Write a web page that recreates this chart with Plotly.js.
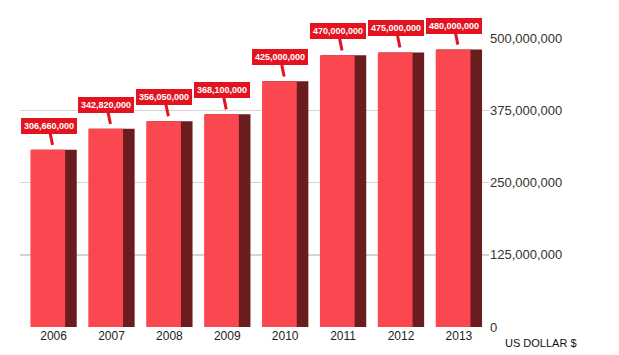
<!DOCTYPE html>
<html>
<head>
<meta charset="utf-8">
<script src="https://cdn.plot.ly/plotly-3.0.1.min.js"></script>
<style>html,body{margin:0;padding:0;background:#fff;}#chart{width:619px;height:355px;}</style>
</head>
<body>
<div id="chart"></div>
<script>
const years = ['2006','2007','2008','2009','2010','2011','2012','2013'];
const values = [306660000, 342820000, 356050000, 368100000, 425000000, 470000000, 475000000, 480000000];
const valueLabels = ['306,660,000','342,820,000','356,050,000','368,100,000','425,000,000','470,000,000','475,000,000','480,000,000'];
const tickValues = [0, 125000000, 250000000, 375000000, 500000000];
const tickLabels = ['0','125,000,000','250,000,000','375,000,000','500,000,000'];

const sideTrace = {
  type: 'bar', x: years, y: values,
  width: 0.78, offset: -0.38,
  marker: {color: '#6a1c1f'},
  hoverinfo: 'skip', cliponaxis: false
};
const frontTrace = {
  type: 'bar', x: years, y: values,
  width: 0.6, offset: -0.4,
  marker: {color: '#fb4850'},
  cliponaxis: false
};

const annotations = years.map((yr, i) => ({
  x: i, y: values[i], xref: 'x', yref: 'y',
  text: valueLabels[i],
  showarrow: true, arrowhead: 0, arrowwidth: 3, arrowcolor: '#e3131f',
  ax: -5, ay: -24, standoff: 5,
  bgcolor: '#e3131f', bordercolor: '#e3131f', borderpad: 2,
  font: {family: 'Arial, Liberation Sans, sans-serif', size: 9, color: '#ffffff', weight: 'bold'}
}));
annotations.push({
  xref: 'paper', yref: 'paper', x: 1.03, y: -0.055, xanchor: 'left', yanchor: 'middle',
  text: 'US DOLLAR $', showarrow: false,
  font: {family: 'Arial, Liberation Sans, sans-serif', size: 11, color: '#111'}
});

const layout = {
  width: 619, height: 355,
  margin: {l: 20, r: 130, t: 38, b: 28},
  paper_bgcolor: '#ffffff', plot_bgcolor: '#ffffff',
  showlegend: false,
  barmode: 'overlay',
  xaxis: {
    type: 'category', range: [-0.58, 7.52],
    showgrid: false, zeroline: false, showline: false,
    ticks: '', ticklabelstandoff: 0,
    tickfont: {family: 'Arial, Liberation Sans, sans-serif', size: 12, color: '#222'}
  },
  yaxis: {
    side: 'right', range: [0, 500000000],
    tickvals: tickValues, ticktext: tickLabels,
    showgrid: true, gridcolor: '#d4d4d4', gridwidth: 1.5,
    zeroline: false, showline: false, ticks: '',
    tickfont: {family: 'Arial, Liberation Sans, sans-serif', size: 13, color: '#333'}
  },
  annotations: annotations
};

Plotly.newPlot('chart', [sideTrace, frontTrace], layout, {displayModeBar: false, staticPlot: true});
</script>
</body>
</html>
